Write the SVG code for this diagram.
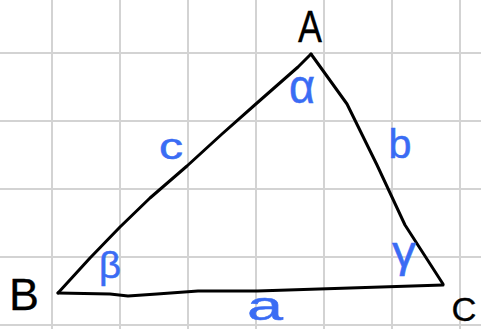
<svg xmlns="http://www.w3.org/2000/svg" width="481" height="329" viewBox="0 0 481 329">
<style>
.grid{stroke:#d3d3d3;stroke-width:2;fill:none}
.edge{stroke:#000;stroke-width:3;fill:none;stroke-linejoin:round;stroke-linecap:round}
.vlabel{font-family:"Liberation Sans","DejaVu Sans",sans-serif;fill:#000;stroke:#000;stroke-width:0.3;text-anchor:middle}
.glabel{font-family:"Liberation Sans","DejaVu Sans",sans-serif;fill:#3a6cf4;stroke:#3a6cf4;stroke-width:0.5;text-anchor:middle}
</style>
<rect width="481" height="329" fill="#fff"/>
<g id="grid" class="grid">
<path d="M52 0V329M120 0V329M188 0V329M256 0V329M324 0V329M392 0V329M460 0V329"/>
<path d="M0 53H481M0 121H481M0 189H481M0 257H481M0 325H481"/>
</g>
<g id="connectors">
<path id="side-c" class="edge" d="M311 54L298 67L257 103L222 134L187 166L150 198L120 227L90 258L58 293"/>
<path id="side-b" class="edge" d="M311 54L347 104L377 165L405 225L443 284"/>
<path id="side-a" class="edge" d="M58 293L110 294L128 296L157 294L198 291L257 291L443 285"/>
</g>
<g id="node-A"><text class="vlabel" x="310" y="42" font-size="44" textLength="24" lengthAdjust="spacingAndGlyphs">A</text><text class="glabel" x="302" y="103" font-size="48" textLength="26" lengthAdjust="spacingAndGlyphs">α</text></g>
<g id="node-B"><text class="vlabel" x="24" y="310" font-size="44" textLength="30" lengthAdjust="spacingAndGlyphs">B</text><text class="glabel" x="110" y="278" font-size="36" textLength="22" lengthAdjust="spacingAndGlyphs">β</text></g>
<g id="node-C"><text class="vlabel" x="464" y="321" font-size="34" textLength="25" lengthAdjust="spacingAndGlyphs">C</text><text class="glabel" x="404" y="267" font-size="44" textLength="24" lengthAdjust="spacingAndGlyphs">γ</text></g>
<g id="side-labels">
<text class="glabel" x="171" y="159" font-size="36" textLength="24" lengthAdjust="spacingAndGlyphs">c</text>
<text class="glabel" x="400" y="158" font-size="41" textLength="23" lengthAdjust="spacingAndGlyphs">b</text>
<text class="glabel" x="265" y="320" font-size="40" textLength="36" lengthAdjust="spacingAndGlyphs">a</text>
</g>
</svg>
